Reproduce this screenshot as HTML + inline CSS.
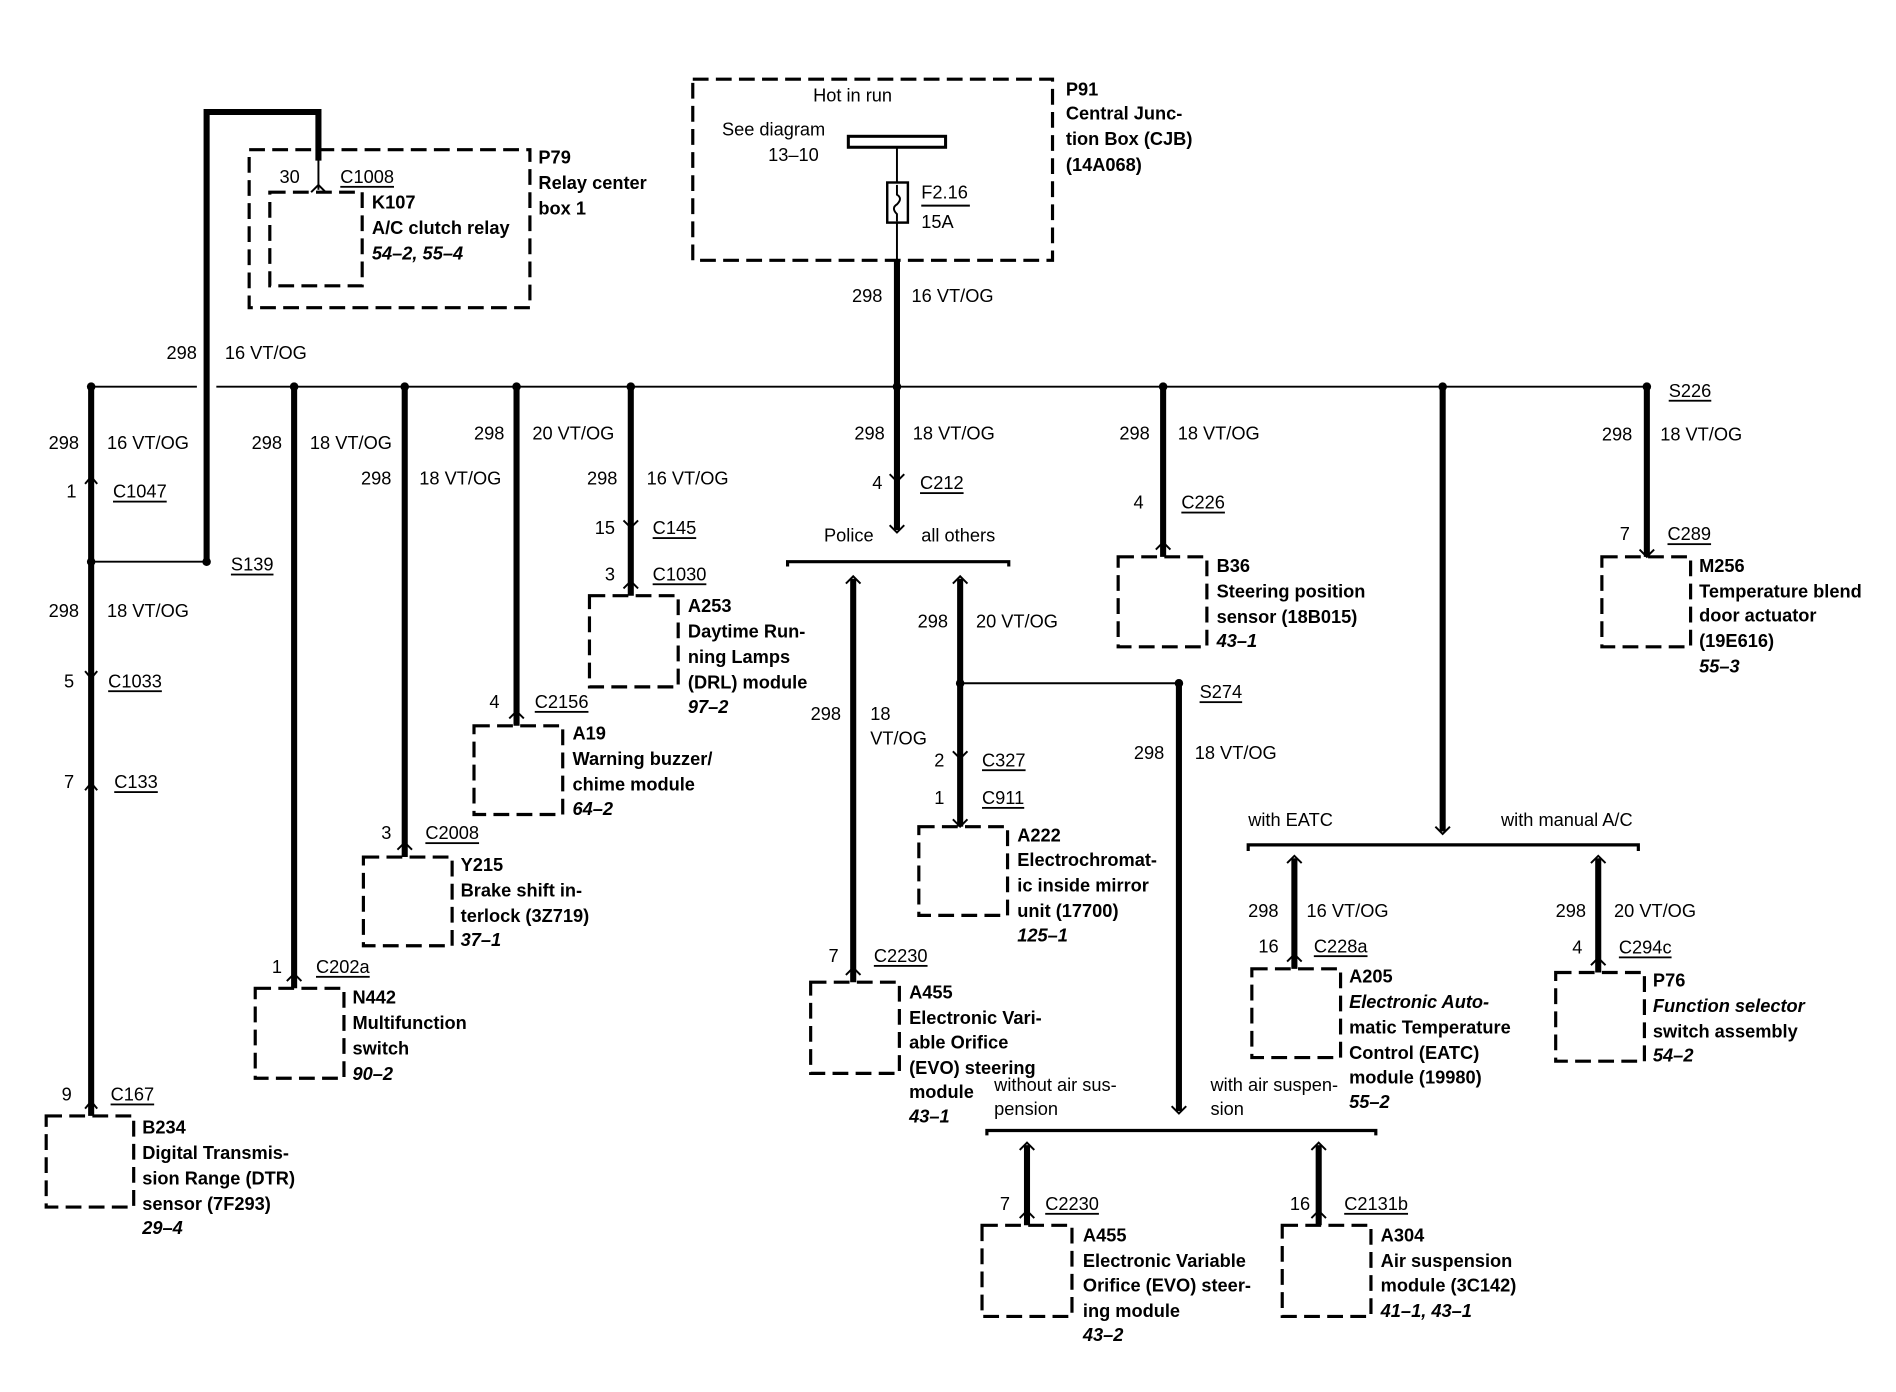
<!DOCTYPE html>
<html><head><meta charset="utf-8"><style>
html,body{margin:0;padding:0;background:#fff}
svg{display:block}
text{font-family:"Liberation Sans",sans-serif;font-size:15px;fill:#000;dominant-baseline:central}
.b{font-weight:bold}
.i{font-style:italic;font-weight:bold}
.u{text-decoration:underline}
.r{text-anchor:end}
.w{stroke:#000;stroke-width:5;fill:none}
.t{stroke:#000;stroke-width:1.6;fill:none}
.d{stroke:#000;stroke-width:2.6;fill:none;stroke-dasharray:13 6}
.br{stroke:#000;stroke-width:2.6;fill:none}
</style></head><body>
<svg width="1896" height="1392" viewBox="0 0 1560 1145" xmlns="http://www.w3.org/2000/svg">
<!-- P91 -->
<rect class="d" x="570" y="65" width="296" height="149"/>
<text x="669" y="78">Hot in run</text>
<text x="594" y="106">See diagram</text>
<text x="632" y="127">13–10</text>
<rect x="698" y="112" width="80" height="9" fill="#fff" stroke="#000" stroke-width="2.5"/>
<line class="t" x1="738" y1="121" x2="738" y2="150"/>
<rect x="730" y="150" width="17" height="33" fill="#fff" stroke="#000" stroke-width="2"/>
<path class="t" d="M738 152 v8 q5 3 0 8 q-5 3 0 8 v6"/>
<line class="t" x1="738" y1="183" x2="738" y2="214"/>
<text x="758" y="158">F2.16</text><text x="758" y="182">15A</text>
<line class="t" x1="758" y1="169" x2="798" y2="169"/>
<text class="b" x="877" y="73">P91</text>
<text class="b" x="877" y="93">Central Junc-</text>
<text class="b" x="877" y="114">tion Box (CJB)</text>
<text class="b" x="877" y="135">(14A068)</text>
<line class="w" x1="738" y1="214" x2="738" y2="318"/>
<text class="r" x="726" y="243">298</text><text x="750" y="243">16 VT/OG</text>

<!-- P79 -->
<rect class="d" x="205" y="123" width="231" height="130"/>
<rect class="d" x="222" y="158" width="76" height="77"/>
<text x="230" y="145">30</text><text class="u" x="280" y="145">C1008</text>
<text class="b" x="306" y="166">K107</text>
<text class="b" x="306" y="187">A/C clutch relay</text>
<text class="i" x="306" y="208">54–2, 55–4</text>
<text class="b" x="443" y="129">P79</text>
<text class="b" x="443" y="150">Relay center</text>
<text class="b" x="443" y="171">box 1</text>
<path class="w" d="M170 462 V92 H262 V132"/>
<line class="t" x1="262" y1="130" x2="262" y2="156"/>
<path class="t" d="M256 158 l6 -6 l6 6"/>
<text class="r" x="162" y="290">298</text><text x="185" y="290">16 VT/OG</text>

<!-- bus -->
<line class="t" x1="75" y1="318" x2="162" y2="318"/>
<line class="t" x1="178" y1="318" x2="1355" y2="318"/>
<g fill="#000">
<circle cx="75" cy="318" r="3.5"/><circle cx="242" cy="318" r="3.5"/><circle cx="333" cy="318" r="3.5"/><circle cx="425" cy="318" r="3.5"/><circle cx="519" cy="318" r="3.5"/><circle cx="738" cy="318" r="3.5"/><circle cx="957" cy="318" r="3.5"/><circle cx="1187" cy="318" r="3.5"/><circle cx="1355" cy="318" r="3.5"/>
<circle cx="75" cy="462" r="3.5"/><circle cx="170" cy="462" r="3.5"/><circle cx="790" cy="562" r="3.5"/><circle cx="970" cy="562" r="3.5"/>
</g>
<text class="u" x="1373" y="321">S226</text>

<!-- left x=75 -->
<line class="w" x1="75" y1="318" x2="75" y2="918"/>
<line class="t" x1="75" y1="462" x2="170" y2="462"/>
<text class="u" x="190" y="464">S139</text>
<text class="r" x="65" y="364">298</text><text x="88" y="364">16 VT/OG</text>
<text class="r" x="63" y="404">1</text><text class="u" x="93" y="404">C1047</text>
<text class="r" x="65" y="502">298</text><text x="88" y="502">18 VT/OG</text>
<text class="r" x="61" y="560">5</text><text class="u" x="89" y="560">C1033</text>
<text class="r" x="61" y="643">7</text><text class="u" x="94" y="643">C133</text>
<text class="r" x="59" y="900">9</text><text class="u" x="91" y="900">C167</text>
<rect class="d" x="38" y="918" width="72" height="75"/>
<text class="b" x="117" y="927">B234</text>
<text class="b" x="117" y="948">Digital Transmis-</text>
<text class="b" x="117" y="969">sion Range (DTR)</text>
<text class="b" x="117" y="990">sensor (7F293)</text>
<text class="i" x="117" y="1010">29–4</text>

<!-- x=242 -->
<line class="w" x1="242" y1="318" x2="242" y2="813"/>
<text class="r" x="232" y="364">298</text><text x="255" y="364">18 VT/OG</text>
<text class="r" x="232" y="795">1</text><text class="u" x="260" y="795">C202a</text>
<rect class="d" x="210" y="813" width="73" height="74"/>
<text class="b" x="290" y="820">N442</text>
<text class="b" x="290" y="841">Multifunction</text>
<text class="b" x="290" y="862">switch</text>
<text class="i" x="290" y="883">90–2</text>

<!-- x=333 -->
<line class="w" x1="333" y1="318" x2="333" y2="705"/>
<text class="r" x="322" y="393">298</text><text x="345" y="393">18 VT/OG</text>
<text class="r" x="322" y="685">3</text><text class="u" x="350" y="685">C2008</text>
<rect class="d" x="299" y="705" width="73" height="73"/>
<text class="b" x="379" y="711">Y215</text>
<text class="b" x="379" y="732">Brake shift in-</text>
<text class="b" x="379" y="753">terlock (3Z719)</text>
<text class="i" x="379" y="773">37–1</text>

<!-- x=425 -->
<line class="w" x1="425" y1="318" x2="425" y2="597"/>
<text class="r" x="415" y="356">298</text><text x="438" y="356">20 VT/OG</text>
<text class="r" x="411" y="577">4</text><text class="u" x="440" y="577">C2156</text>
<rect class="d" x="390" y="597" width="73" height="73"/>
<text class="b" x="471" y="603">A19</text>
<text class="b" x="471" y="624">Warning buzzer/</text>
<text class="b" x="471" y="645">chime module</text>
<text class="i" x="471" y="665">64–2</text>

<!-- x=519 -->
<line class="w" x1="519" y1="318" x2="519" y2="490"/>
<text class="r" x="508" y="393">298</text><text x="532" y="393">16 VT/OG</text>
<text class="r" x="506" y="434">15</text><text class="u" x="537" y="434">C145</text>
<text class="r" x="506" y="472">3</text><text class="u" x="537" y="472">C1030</text>
<rect class="d" x="485" y="490" width="73" height="75"/>
<text class="b" x="566" y="498">A253</text>
<text class="b" x="566" y="519">Daytime Run-</text>
<text class="b" x="566" y="540">ning Lamps</text>
<text class="b" x="566" y="561">(DRL) module</text>
<text class="i" x="566" y="581">97–2</text>

<!-- center x=738 -->
<line class="w" x1="738" y1="318" x2="738" y2="436"/>
<text class="r" x="728" y="356">298</text><text x="751" y="356">18 VT/OG</text>
<text class="r" x="726" y="397">4</text><text class="u" x="757" y="397">C212</text>
<text x="678" y="440">Police</text><text x="758" y="440">all others</text>
<path class="br" d="M648 466 V462 H830 V466"/>
<line class="w" x1="702" y1="476" x2="702" y2="808"/>
<text class="r" x="692" y="587">298</text><text x="716" y="587">18</text><text x="716" y="607">VT/OG</text>
<text class="r" x="690" y="786">7</text><text class="u" x="719" y="786">C2230</text>
<rect class="d" x="667" y="808" width="73" height="75"/>
<text class="b" x="748" y="816">A455</text>
<text class="b" x="748" y="837">Electronic Vari-</text>
<text class="b" x="748" y="857">able Orifice</text>
<text class="b" x="748" y="878">(EVO) steering</text>
<text class="b" x="748" y="898">module</text>
<text class="i" x="748" y="918">43–1</text>

<line class="w" x1="790" y1="476" x2="790" y2="680"/>
<text class="r" x="780" y="511">298</text><text x="803" y="511">20 VT/OG</text>
<line class="t" x1="790" y1="562" x2="970" y2="562"/>
<text class="u" x="987" y="569">S274</text>
<text class="r" x="777" y="625">2</text><text class="u" x="808" y="625">C327</text>
<text class="r" x="777" y="656">1</text><text class="u" x="808" y="656">C911</text>
<rect class="d" x="756" y="680" width="73" height="73"/>
<text class="b" x="837" y="687">A222</text>
<text class="b" x="837" y="707">Electrochromat-</text>
<text class="b" x="837" y="728">ic inside mirror</text>
<text class="b" x="837" y="749">unit (17700)</text>
<text class="i" x="837" y="769">125–1</text>

<!-- S274 drop -->
<line class="w" x1="970" y1="562" x2="970" y2="914"/>
<text class="r" x="958" y="619">298</text><text x="983" y="619">18 VT/OG</text>
<text x="818" y="892">without air sus-</text><text x="818" y="912">pension</text>
<text x="996" y="892">with air suspen-</text><text x="996" y="912">sion</text>
<path class="br" d="M812 934 V930 H1132 V934"/>
<line class="w" x1="845" y1="942" x2="845" y2="1008"/>
<text class="r" x="831" y="990">7</text><text class="u" x="860" y="990">C2230</text>
<rect class="d" x="808" y="1008" width="74" height="75"/>
<text class="b" x="891" y="1016">A455</text>
<text class="b" x="891" y="1037">Electronic Variable</text>
<text class="b" x="891" y="1057">Orifice (EVO) steer-</text>
<text class="b" x="891" y="1078">ing module</text>
<text class="i" x="891" y="1098">43–2</text>
<line class="w" x1="1085" y1="942" x2="1085" y2="1008"/>
<text class="r" x="1078" y="990">16</text><text class="u" x="1106" y="990">C2131b</text>
<rect class="d" x="1055" y="1008" width="73" height="75"/>
<text class="b" x="1136" y="1016">A304</text>
<text class="b" x="1136" y="1037">Air suspension</text>
<text class="b" x="1136" y="1057">module (3C142)</text>
<text class="i" x="1136" y="1078">41–1, 43–1</text>

<!-- x=957 -->
<line class="w" x1="957" y1="318" x2="957" y2="458"/>
<text class="r" x="946" y="356">298</text><text x="969" y="356">18 VT/OG</text>
<text class="r" x="941" y="413">4</text><text class="u" x="972" y="413">C226</text>
<rect class="d" x="920" y="458" width="73" height="74"/>
<text class="b" x="1001" y="465">B36</text>
<text class="b" x="1001" y="486">Steering position</text>
<text class="b" x="1001" y="507">sensor (18B015)</text>
<text class="i" x="1001" y="527">43–1</text>

<!-- x=1187 -->
<line class="w" x1="1187" y1="318" x2="1187" y2="684"/>
<text x="1027" y="674">with EATC</text><text x="1235" y="674">with manual A/C</text>
<path class="br" d="M1027 700 V695 H1348 V700"/>
<line class="w" x1="1065" y1="706" x2="1065" y2="797"/>
<text class="r" x="1052" y="749">298</text><text x="1075" y="749">16 VT/OG</text>
<text class="r" x="1052" y="778">16</text><text class="u" x="1081" y="778">C228a</text>
<rect class="d" x="1030" y="797" width="73" height="73"/>
<text class="b" x="1110" y="803">A205</text>
<text class="i" x="1110" y="824">Electronic Auto-</text>
<text class="b" x="1110" y="845">matic Temperature</text>
<text class="b" x="1110" y="866">Control (EATC)</text>
<text class="b" x="1110" y="886">module (19980)</text>
<text class="i" x="1110" y="906">55–2</text>
<line class="w" x1="1315" y1="706" x2="1315" y2="800"/>
<text class="r" x="1305" y="749">298</text><text x="1328" y="749">20 VT/OG</text>
<text class="r" x="1302" y="779">4</text><text class="u" x="1332" y="779">C294c</text>
<rect class="d" x="1280" y="800" width="73" height="73"/>
<text class="b" x="1360" y="806">P76</text>
<text class="i" x="1360" y="827">Function selector</text>
<text class="b" x="1360" y="848">switch assembly</text>
<text class="i" x="1360" y="868">54–2</text>

<!-- x=1355 -->
<line class="w" x1="1355" y1="318" x2="1355" y2="458"/>
<text class="r" x="1343" y="357">298</text><text x="1366" y="357">18 VT/OG</text>
<text class="r" x="1341" y="439">7</text><text class="u" x="1372" y="439">C289</text>
<rect class="d" x="1318" y="458" width="73" height="74"/>
<text class="b" x="1398" y="465">M256</text>
<text class="b" x="1398" y="486">Temperature blend</text>
<text class="b" x="1398" y="506">door actuator</text>
<text class="b" x="1398" y="527">(19E616)</text>
<text class="i" x="1398" y="548">55–3</text>

<!-- connector carets -->
<g class="t" stroke-width="2">
<path d="M70 398 l5 -6 l5 6"/><path d="M70 552 l5 6 l5 -6"/><path d="M70 650 l5 -6 l5 6"/><path d="M70 912 l5 -6 l5 6"/>
<path d="M236 807 l6 -6 l6 6"/><path d="M327 699 l6 -6 l6 6"/><path d="M419 591 l6 -6 l6 6"/>
<path d="M513 428 l6 6 l6 -6"/><path d="M513 484 l6 -6 l6 6"/>
<path d="M732 390 l6 6 l6 -6"/><path d="M732 432 l6 6 l6 -6"/>
<path d="M696 480 l6 -6 l6 6"/><path d="M696 802 l6 -6 l6 6"/>
<path d="M784 480 l6 -6 l6 6"/><path d="M784 618 l6 6 l6 -6"/><path d="M784 674 l6 6 l6 -6"/>
<path d="M951 452 l6 -6 l6 6"/><path d="M1349 452 l6 6 l6 -6"/>
<path d="M964 910 l6 6 l6 -6"/><path d="M1181 680 l6 6 l6 -6"/>
<path d="M839 946 l6 -6 l6 6"/><path d="M839 1002 l6 -6 l6 6"/>
<path d="M1079 946 l6 -6 l6 6"/><path d="M1079 1002 l6 -6 l6 6"/>
<path d="M1059 710 l6 -6 l6 6"/><path d="M1059 791 l6 -6 l6 6"/>
<path d="M1309 710 l6 -6 l6 6"/><path d="M1309 794 l6 -6 l6 6"/>
</g>
</svg>
</body></html>
